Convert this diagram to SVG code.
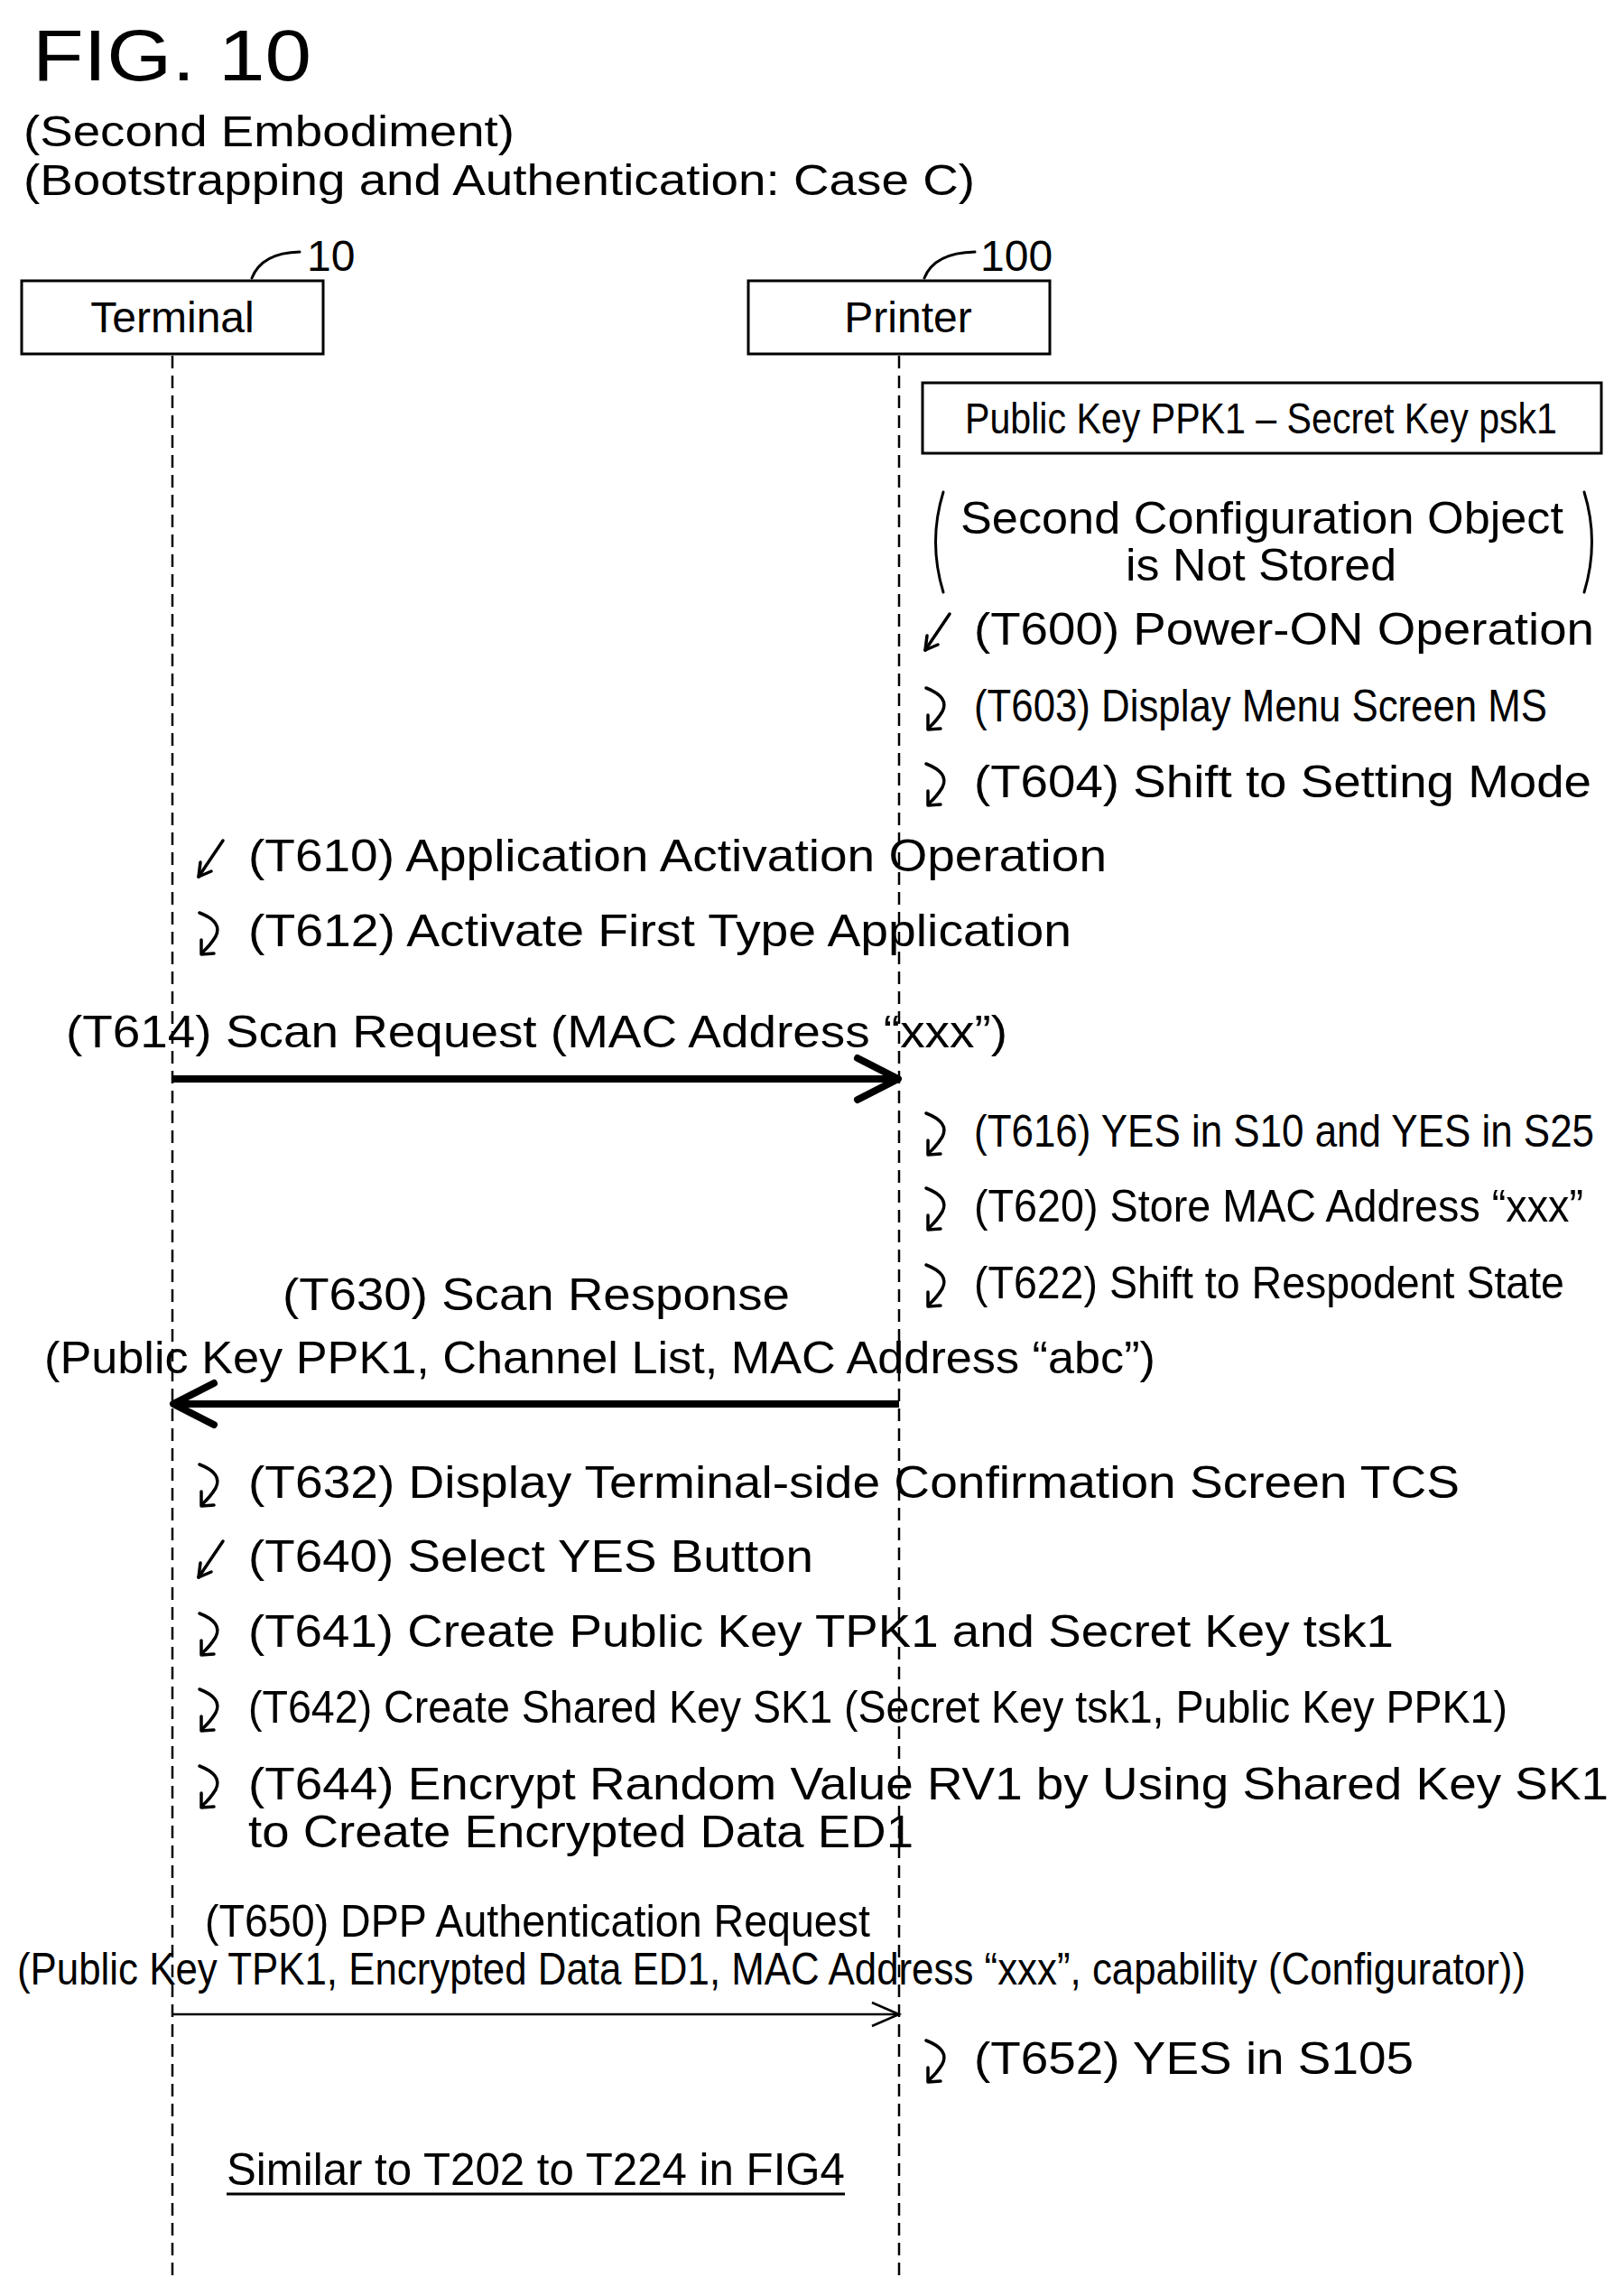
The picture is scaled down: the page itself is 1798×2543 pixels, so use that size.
<svg xmlns="http://www.w3.org/2000/svg" width="1798" height="2543" viewBox="0 0 1798 2543">
<style>
text{font-family:"Liberation Sans",Arial,sans-serif;fill:#000;font-size:50px}
.c{text-anchor:middle}
.big{font-size:80px}
.m{font-size:48px}
.box{fill:#fff;stroke:#000;stroke-width:3}
.life{stroke:#000;stroke-width:2.5;stroke-dasharray:14,8;fill:none}
.ic{fill:none;stroke:#000;stroke-width:3.5;stroke-linecap:round;stroke-linejoin:round}
</style>
<defs>
<g id="curl" class="ic"><path d="M4,0 Q30,10 22,26 Q16,36 7,44"/><path d="M6,30 L6,46 L20,45"/></g>
<g id="diag" class="ic"><path d="M30,0 L3,40"/><path d="M3,40 L5,24"/><path d="M3,40 L17,34"/></g>
</defs>
<rect width="1798" height="2543" fill="#fff"/>
<text class="big" x="36" y="89" textLength="309" lengthAdjust="spacingAndGlyphs">FIG. 10</text>
<text class="m" x="26" y="162" textLength="544" lengthAdjust="spacingAndGlyphs">(Second Embodiment)</text>
<text class="m" x="26" y="216" textLength="1054" lengthAdjust="spacingAndGlyphs">(Bootstrapping and Authentication: Case C)</text>
<g id="terminal">
<rect class="box" x="24" y="311" width="334" height="81"/>
<text class="c m" x="191" y="368">Terminal</text>
<path class="ic" style="stroke-width:3" d="M279,308 Q290,280 332,279"/>
<text class="m" x="340" y="300">10</text>
</g>
<g id="printer">
<rect class="box" x="829" y="311" width="334" height="81"/>
<text class="c m" x="1006" y="368">Printer</text>
<path class="ic" style="stroke-width:3" d="M1024,308 Q1035,280 1080,279"/>
<text class="m" x="1086" y="300">100</text>
</g>
<g id="lifelines">
<line class="life" x1="191" y1="394" x2="191" y2="2525"/>
<line class="life" x1="996" y1="394" x2="996" y2="2525"/>
</g>
<g id="keybox">
<rect class="box" x="1022" y="424" width="752" height="78"/>
<text class="m" x="1069" y="480" textLength="656" lengthAdjust="spacingAndGlyphs">Public Key PPK1 – Secret Key psk1</text>
</g>
<g id="config">
<path class="ic" style="stroke-width:3" d="M1045,545 Q1028,600 1045,656"/>
<path class="ic" style="stroke-width:3" d="M1755,545 Q1772,600 1755,656"/>
<text x="1064" y="591" textLength="668" lengthAdjust="spacingAndGlyphs">Second Configuration Object</text>
<text x="1247" y="643" textLength="300" lengthAdjust="spacingAndGlyphs">is Not Stored</text>
</g>
<g id="steps">
<use href="#diag" x="1022" y="680"/>
<text x="1079" y="714" textLength="687" lengthAdjust="spacingAndGlyphs">(T600) Power-ON Operation</text>
<use href="#curl" x="1022" y="762"/>
<text x="1079" y="799" textLength="635" lengthAdjust="spacingAndGlyphs">(T603) Display Menu Screen MS</text>
<use href="#curl" x="1022" y="846"/>
<text x="1079" y="883" textLength="684" lengthAdjust="spacingAndGlyphs">(T604) Shift to Setting Mode</text>
<use href="#diag" x="217" y="931"/>
<text x="275" y="965" textLength="951" lengthAdjust="spacingAndGlyphs">(T610) Application Activation Operation</text>
<use href="#curl" x="217" y="1011"/>
<text x="275" y="1048" textLength="912" lengthAdjust="spacingAndGlyphs">(T612) Activate First Type Application</text>
<use href="#curl" x="1022" y="1233"/>
<text x="1079" y="1270" textLength="687" lengthAdjust="spacingAndGlyphs">(T616) YES in S10 and YES in S25</text>
<use href="#curl" x="1022" y="1316"/>
<text x="1079" y="1353" textLength="675" lengthAdjust="spacingAndGlyphs">(T620) Store MAC Address “xxx”</text>
<use href="#curl" x="1022" y="1401"/>
<text x="1079" y="1438" textLength="654" lengthAdjust="spacingAndGlyphs">(T622) Shift to Respodent State</text>
<use href="#curl" x="217" y="1622"/>
<text x="275" y="1659" textLength="1342" lengthAdjust="spacingAndGlyphs">(T632) Display Terminal-side Confirmation Screen TCS</text>
<use href="#diag" x="217" y="1707"/>
<text x="275" y="1741" textLength="626" lengthAdjust="spacingAndGlyphs">(T640) Select YES Button</text>
<use href="#curl" x="217" y="1787"/>
<text x="275" y="1824" textLength="1269" lengthAdjust="spacingAndGlyphs">(T641) Create Public Key TPK1 and Secret Key tsk1</text>
<use href="#curl" x="217" y="1871"/>
<text x="275" y="1908" textLength="1395" lengthAdjust="spacingAndGlyphs">(T642) Create Shared Key SK1 (Secret Key tsk1, Public Key PPK1)</text>
<use href="#curl" x="217" y="1956"/>
<text x="275" y="1993" textLength="1507" lengthAdjust="spacingAndGlyphs">(T644) Encrypt Random Value RV1 by Using Shared Key SK1</text>
<text x="275" y="2046" textLength="737" lengthAdjust="spacingAndGlyphs">to Create Encrypted Data ED1</text>
<use href="#curl" x="1022" y="2260"/>
<text x="1079" y="2297" textLength="487" lengthAdjust="spacingAndGlyphs">(T652) YES in S105</text>
<text x="251" y="2420" textLength="685" lengthAdjust="spacingAndGlyphs">Similar to T202 to T224 in FIG4</text>
<line x1="251" y1="2430" x2="936" y2="2430" stroke="#000" stroke-width="3"/>
</g>
<g id="connectors">
<text x="73" y="1160" textLength="1043" lengthAdjust="spacingAndGlyphs">(T614) Scan Request (MAC Address “xxx”)</text>
<path d="M191,1195 L993,1195" stroke="#000" stroke-width="8" fill="none"/>
<path d="M950,1172 L995,1195 L950,1218" stroke="#000" stroke-width="8" fill="none" stroke-linecap="round" stroke-linejoin="round"/>
<text x="313" y="1451" textLength="562" lengthAdjust="spacingAndGlyphs">(T630) Scan Response</text>
<text x="49" y="1521" textLength="1231" lengthAdjust="spacingAndGlyphs">(Public Key PPK1, Channel List, MAC Address “abc”)</text>
<path d="M996,1555 L194,1555" stroke="#000" stroke-width="8" fill="none"/>
<path d="M237,1532 L192,1555 L237,1578" stroke="#000" stroke-width="8" fill="none" stroke-linecap="round" stroke-linejoin="round"/>
<text x="227" y="2145" textLength="737" lengthAdjust="spacingAndGlyphs">(T650) DPP Authentication Request</text>
<text x="19" y="2198" textLength="1671" lengthAdjust="spacingAndGlyphs">(Public Key TPK1, Encrypted Data ED1, MAC Address “xxx”, capability (Configurator))</text>
<path d="M191,2231 L996,2231" stroke="#000" stroke-width="2.5" fill="none"/>
<path d="M966,2218 L996,2231 L966,2244" stroke="#000" stroke-width="2.5" fill="none"/>
</g>
</svg>
